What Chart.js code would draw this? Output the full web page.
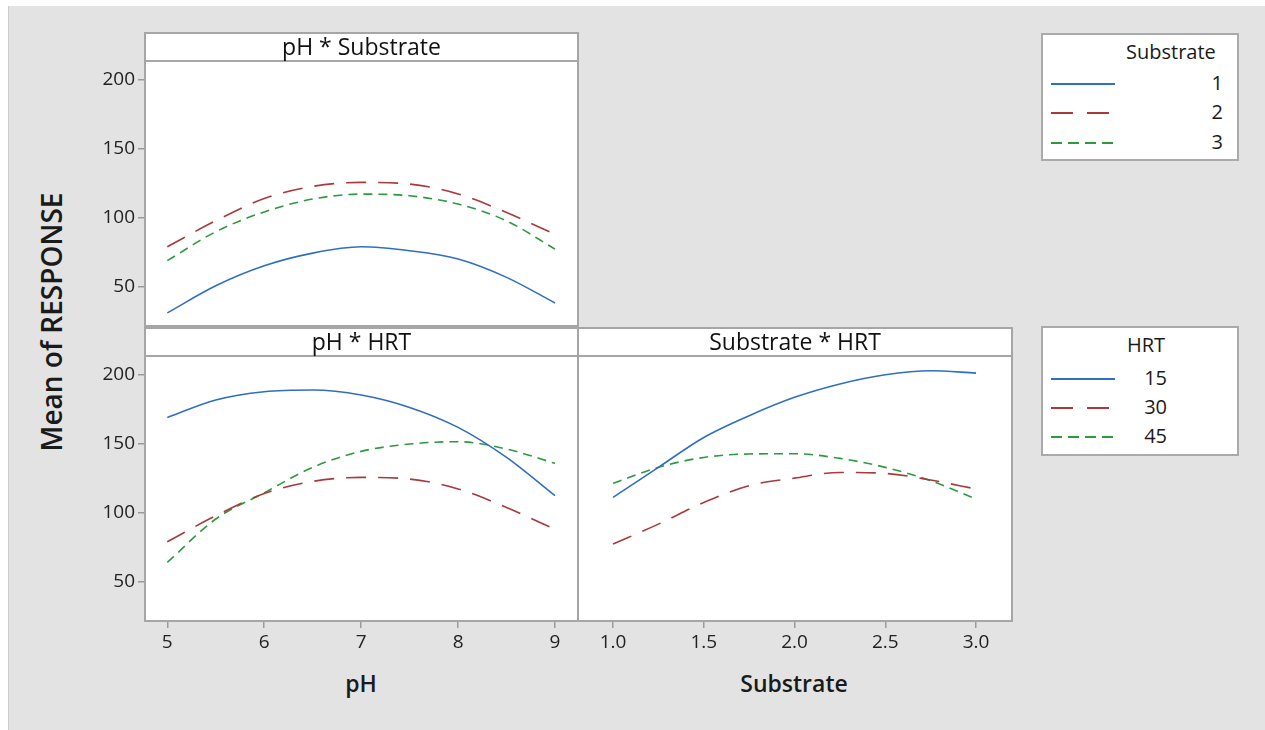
<!DOCTYPE html>
<html><head><meta charset="utf-8">
<script src="https://cdn.jsdelivr.net/npm/chart.js@4.4.1/dist/chart.umd.min.js"></script>
<style>
body{margin:0;width:1265px;height:730px;background:#fff;overflow:hidden;font-family:"Open Sans",sans-serif;color:#1a1a1a;position:relative}
#bg{position:absolute;left:8px;top:6px;width:1257px;height:724px;background:#e3e3e3;border-left:1px solid #cbcbcb;box-sizing:border-box}
canvas{position:absolute}
.t{position:absolute;white-space:nowrap;color:#1a1a1a}
.leg{position:absolute;left:1041px;width:198px;background:#fff;border:2px solid #aaaaaa;box-sizing:border-box}
.leg .ttl{position:absolute;font-size:20px;line-height:22px}
.leg .lab{position:absolute;font-size:20px;line-height:22px;text-align:right;width:40px}
.leg svg{position:absolute;left:6px}
</style></head>
<body>
<div id="bg"></div>
<canvas id="cA" width="500" height="298" style="left:80px;top:30px"></canvas>
<canvas id="cB" width="500" height="339" style="left:80px;top:322px"></canvas>
<canvas id="cC" width="450" height="339" style="left:570px;top:322px"></canvas>
<div class="t" id="ytitle" style="left:51px;top:322px;font-size:28px;font-weight:600;transform:translate(-50%,-50%) rotate(-90deg)">Mean of RESPONSE</div>
<div class="t" style="left:361px;top:683px;font-size:23px;font-weight:600;transform:translate(-50%,-50%)">pH</div>
<div class="t" style="left:794px;top:683px;font-size:23px;font-weight:600;transform:translate(-50%,-50%)">Substrate</div>
<div class="leg" id="leg1" style="top:33px;height:128px"></div>
<div class="leg" id="leg2" style="top:326px;height:130px"></div>
<script>
// ---- data ----
const phLevels = [5, 5.5, 6, 6.5, 7, 7.5, 8, 8.5, 9];
const substrateLevels = [1, 1.25, 1.5, 1.75, 2, 2.25, 2.5, 2.75, 3];
const yTickValues = [50, 100, 150, 200];
const phTicks = [5, 6, 7, 8, 9];
const substrateTicks = [1.0, 1.5, 2.0, 2.5, 3.0];
const substrateGroups = ["1", "2", "3"];
const hrtGroups = ["15", "30", "45"];
// pH * Substrate
const phSub1 = [31.0, 50.7, 65.2, 74.4, 79.0, 76.1, 70.1, 56.8, 38.2];
const phSub2 = [79.0, 97.9, 114.0, 122.8, 125.7, 124.5, 117.3, 103.9, 88.0];
const phSub3 = [68.9, 89.9, 104.3, 113.6, 117.2, 116.0, 110.0, 97.8, 77.3];
// pH * HRT
const phHrt15 = [169.2, 181.9, 187.9, 189.1, 185.5, 176.5, 162.0, 140.2, 112.4];
const phHrt30 = [79.0, 97.9, 114.0, 122.8, 125.7, 124.5, 117.3, 103.9, 88.0];
const phHrt45 = [64.0, 95.5, 114.5, 133.0, 144.6, 149.9, 151.6, 146.3, 135.9];
// Substrate * HRT
const subHrt15 = [111.2, 133.0, 154.7, 170.5, 183.8, 193.5, 200.2, 203.1, 201.4];
const subHrt30 = [77.3, 91.8, 107.5, 119.7, 125.2, 129.3, 128.6, 123.8, 117.3];
const subHrt45 = [121.4, 133.0, 140.2, 142.7, 142.9, 139.5, 133.0, 123.3, 110.0];

// ---- styles ----
const COLORS = ['#2f6fc0', '#a83a3c', '#2e9a3e'];
const DASHES = [[], [20, 12], [9, 6]];
const LEG_DASHES = [[], [22, 14], [11, 6]];
const FRAME = '#a6a6a6';
const FONT = '"Open Sans", sans-serif';
const Y_RANGE = {min: 21.5, max: 213.8};

function pts(xs, ys) { return xs.map((x, i) => ({x: x, y: ys[i]})); }
function ds(xs, arr) {
  return arr.map((ys, i) => ({
    data: pts(xs, ys), borderColor: COLORS[i], borderWidth: 1.6,
    borderDash: DASHES[i], pointRadius: 0, cubicInterpolationMode: 'monotone', fill: false
  }));
}

const framePlugin = {
  id: 'frame',
  beforeDraw(chart) {
    const a = chart.chartArea, c = chart.ctx;
    c.save(); c.fillStyle = '#fff';
    c.fillRect(a.left, a.top, a.right - a.left, a.bottom - a.top);
    c.restore();
  },
  afterDraw(chart, args, opts) {
    const a = chart.chartArea, c = chart.ctx;
    c.save();
    c.strokeStyle = FRAME; c.lineWidth = 2;
    c.strokeRect(a.left, a.top, a.right - a.left, a.bottom - a.top);
    const h = 28;
    c.fillStyle = '#fff';
    c.fillRect(a.left, a.top - h, a.right - a.left, h);
    c.strokeRect(a.left, a.top - h, a.right - a.left, h);
    c.fillStyle = '#111'; c.font = '23px ' + FONT;
    c.textAlign = 'center'; c.textBaseline = 'middle';
    c.fillText(opts.text, (a.left + a.right) / 2, a.top - h / 2 + 1);
    c.restore();
  }
};

function yScale(show) {
  return {
    type: 'linear', display: show, min: Y_RANGE.min, max: Y_RANGE.max,
    afterBuildTicks: s => { s.ticks = yTickValues.map(v => ({value: v})); },
    afterFit: s => { s.width = show ? 65 : 0; s.paddingTop = 0; s.paddingBottom = 0; },
    grid: {drawOnChartArea: false, drawTicks: true, tickLength: 7, color: '#9a9a9a', lineWidth: 1.5},
    border: {display: false},
    ticks: {font: {family: FONT, size: 19}, color: '#222', padding: 3}
  };
}
function xScale(show, min, max, ticks, dec) {
  return {
    type: 'linear', display: show, min: min, max: max,
    afterBuildTicks: s => { s.ticks = ticks.map(v => ({value: v})); },
    afterFit: s => { s.height = show ? 40 : 0; },
    grid: {drawOnChartArea: false, drawTicks: true, tickLength: 7, color: '#9a9a9a', lineWidth: 1.5},
    border: {display: false},
    ticks: {font: {family: FONT, size: 19}, color: '#222', padding: 3,
            maxRotation: 0, callback: v => dec ? Number(v).toFixed(1) : String(v)}
  };
}
function make(id, datasets, scales, padding, title) {
  return new Chart(document.getElementById(id), {
    type: 'line',
    data: {datasets: datasets},
    options: {
      responsive: false, animation: false, devicePixelRatio: 1,
      layout: {padding: padding},
      plugins: {legend: {display: false}, tooltip: {enabled: false}, frame: {text: title}},
      scales: scales
    },
    plugins: [framePlugin]
  });
}

make('cA', ds(phLevels, [phSub1, phSub2, phSub3]),
  {x: xScale(false, 4.77, 9.237, phTicks, false), y: yScale(true)},
  {top: 31, right: 2, bottom: 2, left: 0}, 'pH * Substrate');
make('cB', ds(phLevels, [phHrt15, phHrt30, phHrt45]),
  {x: xScale(true, 4.77, 9.237, phTicks, false), y: yScale(true)},
  {top: 34, right: 2, bottom: 0, left: 0}, 'pH * HRT');
make('cC', ds(substrateLevels, [subHrt15, subHrt30, subHrt45]),
  {x: xScale(true, 0.807, 3.198, substrateTicks, true), y: yScale(false)},
  {top: 34, right: 8, bottom: 0, left: 8}, 'Substrate * HRT');

// ---- legends ----
function legend(id, title, groups, titleLeft, rowTops, labelRight) {
  const el = document.getElementById(id);
  let html = '<div class="ttl" style="left:' + titleLeft + 'px;top:6px">' + title + '</div>';
  groups.forEach((g, i) => {
    const y = rowTops[i];
    html += '<svg width="70" height="6" style="top:' + (y - 3) + 'px"><line x1="2" y1="3" x2="66" y2="3" stroke="' +
      COLORS[i] + '" stroke-width="2" stroke-dasharray="' + (LEG_DASHES[i].join(',') || 'none') + '"/></svg>';
    html += '<div class="lab" style="left:' + (labelRight - 40) + 'px;top:' + (y - 12) + 'px">' + g + '</div>';
  });
  el.innerHTML = html;
}
legend('leg1', 'Substrate', substrateGroups, 83, [49, 78, 108], 180);
legend('leg2', 'HRT', hrtGroups, 84, [51, 80, 109], 124);
</script>
</body></html>
